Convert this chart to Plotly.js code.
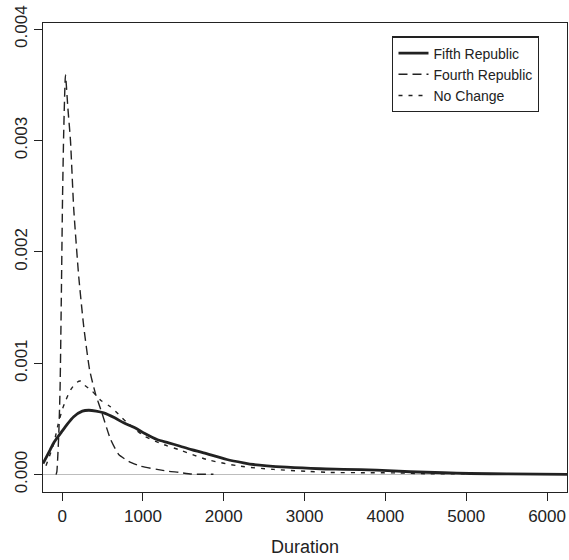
<!DOCTYPE html>
<html>
<head>
<meta charset="utf-8">
<script src="https://cdn.plot.ly/plotly-3.0.1.min.js"></script>
<style>html,body{margin:0;padding:0;background:#fff;}#chart{width:569px;height:560px;}</style>
</head>
<body>
<div id="chart"></div>
<script>
// Fifth Republic density
const fifthX = [-237, -150, -100, -21, 50, 143, 250, 329, 420, 514, 650, 761, 900, 1008, 1174, 1317, 1462, 1600, 1750, 2039, 2244, 2367, 2780, 3192, 3480, 3892, 4304, 4716, 5045, 5500, 6247];
const fifthY = [0.0001, 0.00022, 0.00029, 0.00037, 0.00044, 0.00052, 0.00057, 0.000578, 0.00057, 0.000554, 0.00051, 0.000465, 0.00042, 0.000375, 0.000315, 0.000286, 0.000255, 0.000225, 0.000196, 0.000136, 0.000106, 0.000091, 0.000067, 0.000053, 0.000048, 0.00004, 0.000026, 0.000017, 0.00001, 0.000007, 0.000003];

// Fourth Republic density
const fourthX = [-75, -65, -55, -40, -25, -10, 5, 20, 41, 70, 103, 143, 205, 267, 340, 411, 494, 597, 700, 823, 968, 1174, 1318, 1450, 1600, 1872];
const fourthY = [0, 0.00003, 0.00015, 0.0004, 0.0008, 0.0016, 0.0025, 0.0031, 0.00359, 0.0033, 0.0030, 0.00239, 0.00178, 0.00133, 0.00094, 0.00073, 0.00055, 0.00032, 0.00018, 0.00012, 0.000076, 0.000047, 0.00003, 0.00002, 0.000005, 0.000003];

// No Change density
const noChangeX = [-200, -104, -50, 0, 41, 103, 185, 230, 267, 371, 473, 597, 700, 800, 900, 1008, 1256, 1462, 1791, 2203, 2615, 3027, 3300, 3800, 4170, 4500, 5405];
const noChangeY = [0.00008, 0.00028, 0.00045, 0.00058, 0.00066, 0.00076, 0.00083, 0.00084, 0.00081, 0.00075, 0.00067, 0.00061, 0.00054, 0.00047, 0.00041, 0.00035, 0.00027, 0.00022, 0.000136, 0.000076, 0.000047, 0.00003, 0.00002, 0.000017, 0.000015, 0.000008, 0.000008];

const seriesNames = ["Fifth Republic", "Fourth Republic", "No Change"];
const xTicks = [0, 1000, 2000, 3000, 4000, 5000, 6000];
const yTicks = [0, 0.001, 0.002, 0.003, 0.004];

const ink = "#222222";
const fontFam = "Liberation Sans, Arial, Helvetica, sans-serif";

const traces = [
  {x: fifthX, y: fifthY, name: seriesNames[0], mode: "lines", line: {color: ink, width: 2.8, shape: "spline", smoothing: 0.8}},
  {x: fourthX, y: fourthY, name: seriesNames[1], mode: "lines", line: {color: ink, width: 1.4, dash: "9px,5px", shape: "spline", smoothing: 0.5}},
  {x: noChangeX, y: noChangeY, name: seriesNames[2], mode: "lines", line: {color: ink, width: 1.4, dash: "4px,6px", shape: "spline", smoothing: 0.8}}
];

const layout = {
  width: 569, height: 560, autosize: false,
  margin: {l: 43, r: 2, t: 23, b: 68},
  paper_bgcolor: "#fff", plot_bgcolor: "#fff",
  font: {family: fontFam, color: ink, size: 17},
  showlegend: true,
  legend: {
    x: 0.6666, y: 0.9716, xanchor: "left", yanchor: "top",
    bordercolor: ink, borderwidth: 1.2, bgcolor: "#fff",
    font: {family: fontFam, size: 14, color: ink},
    entrywidth: 133, entrywidthmode: "pixels",
    tracegroupgap: 0
  },
  xaxis: {
    range: [-237, 6247],
    tickvals: xTicks, ticktext: xTicks.map(String),
    ticks: "outside", ticklen: 8, tickwidth: 1, tickcolor: ink,
    showline: true, mirror: true, linecolor: ink, linewidth: 1.2,
    showgrid: false, zeroline: false,
    tickfont: {size: 17},
    title: {text: "Duration", font: {size: 18}, standoff: 15}
  },
  yaxis: {
    range: [-0.000156, 0.004056],
    tickvals: yTicks, ticktext: yTicks.map(v => v.toFixed(3)),
    tickangle: -90,
    ticks: "outside", ticklen: 8, tickwidth: 1, tickcolor: ink,
    showline: true, mirror: true, linecolor: ink, linewidth: 1.2,
    showgrid: false,
    zeroline: true, zerolinecolor: "#bdbdbd", zerolinewidth: 1,
    tickfont: {size: 17}
  }
};

Plotly.newPlot("chart", traces, layout, {displayModeBar: false, staticPlot: true});
</script>
</body>
</html>
